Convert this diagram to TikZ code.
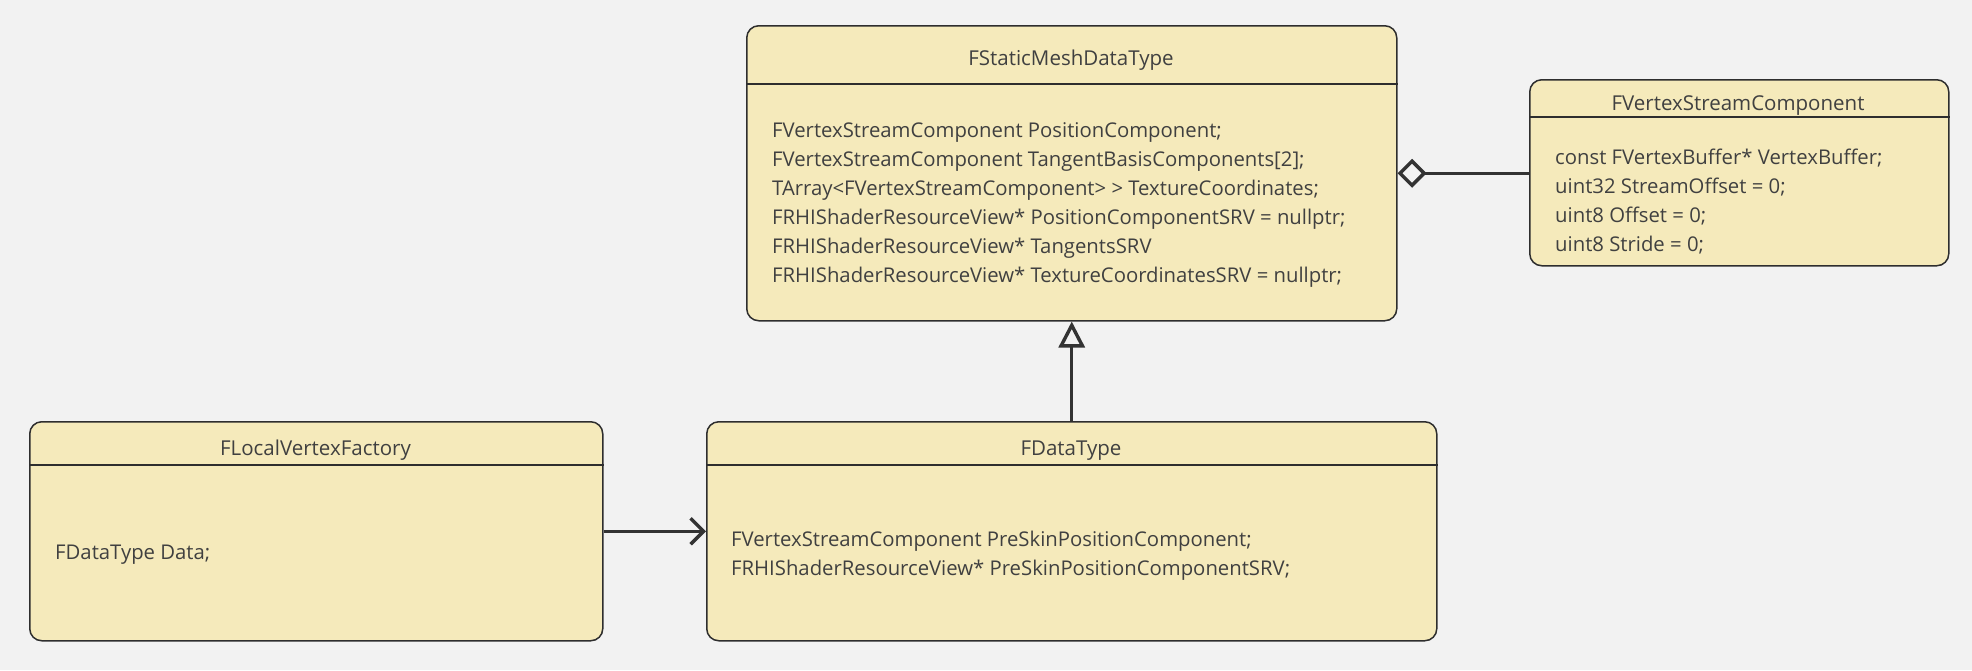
\documentclass[tikz,border=0pt]{standalone}
\usepackage{fontspec}
\setmainfont{Open Sans}
\usetikzlibrary{arrows.meta}
\definecolor{bg}{HTML}{F2F2F2}
\definecolor{boxfill}{HTML}{F5EABB}
\definecolor{boxline}{HTML}{2E2E2E}
\definecolor{txt}{HTML}{404040}
\definecolor{conn}{HTML}{333333}
\begin{document}
\begin{tikzpicture}[x=1pt,y=-1pt,
  classbox/.style={draw=boxline, fill=boxfill, line width=1.5pt, rounded corners=12pt, anchor=north west, inner sep=0pt},
  sep/.style={draw=boxline, line width=1.5pt},
  title/.style={font=\fontsize{20.5}{28.6}\selectfont, text=txt, anchor=base, inner sep=0pt},
  body/.style={font=\fontsize{20.3}{29}\selectfont, text=txt, align=left, anchor=west, inner sep=0pt},
  link/.style={draw=conn, line width=3.4pt}]
\fill[bg] (0,0) rectangle (1972,670);
\useasboundingbox (0,0) rectangle (1972,670);
% boxes
\node[classbox, minimum width=650pt, minimum height=295pt] (sm) at (746,25) {};
\node[classbox, minimum width=419pt, minimum height=186pt] (vs) at (1529,79) {};
\node[classbox, minimum width=573pt, minimum height=219pt] (lvf) at (29,421) {};
\node[classbox, minimum width=730pt, minimum height=219pt] (dt) at (706,421) {};
% header separators
\coordinate (hsm) at (0,84);
\coordinate (hvs) at (0,117);
\coordinate (hbot) at (0,465);
\draw[sep] (sm.west |- hsm) -- (sm.east |- hsm);
\draw[sep] (vs.west |- hvs) -- (vs.east |- hvs);
\draw[sep] (lvf.west |- hbot) -- (lvf.east |- hbot);
\draw[sep] (dt.west |- hbot) -- (dt.east |- hbot);
% titles
\node[title] (smt) at (1071,65) {FStaticMeshDataType};
\node[title] (vst) at (1738,110) {FVertexStreamComponent};
\node[title] (lvft) at (315.5,455) {FLocalVertexFactory};
\node[title] (dtt) at (1071,455) {FDataType};
% bodies
\node[body] (smb) at (772,205) {FVertexStreamComponent PositionComponent;\\
FVertexStreamComponent TangentBasisComponents[2];\\
TArray<FVertexStreamComponent> > TextureCoordinates;\\
FRHIShaderResourceView* PositionComponentSRV = nullptr;\\
FRHIShaderResourceView* TangentsSRV\\
FRHIShaderResourceView* TextureCoordinatesSRV = nullptr;};
\node[body] (vsb) at (1555,202) {const FVertexBuffer* VertexBuffer;\\
uint32 StreamOffset = 0;\\
uint8 Offset = 0;\\
uint8 Stride = 0;};
\node[body] (lvfb) at (55,555) {FDataType Data;};
\node[body] (dtb) at (731,556) {FVertexStreamComponent PreSkinPositionComponent;\\
FRHIShaderResourceView* PreSkinPositionComponentSRV;};
% connectors
\draw[link, {Diamond[open,length=29pt,width=29pt]}-] (sm.east) -- (sm.east -| vs.west);
\draw[link, -{Triangle[open,length=26pt,width=26pt]}] (dt.north) -- (sm.south);
\draw[link, -{Straight Barb[length=13pt,width=26pt]}] (lvf.east) -- (dt.west);
\end{tikzpicture}
\end{document}
